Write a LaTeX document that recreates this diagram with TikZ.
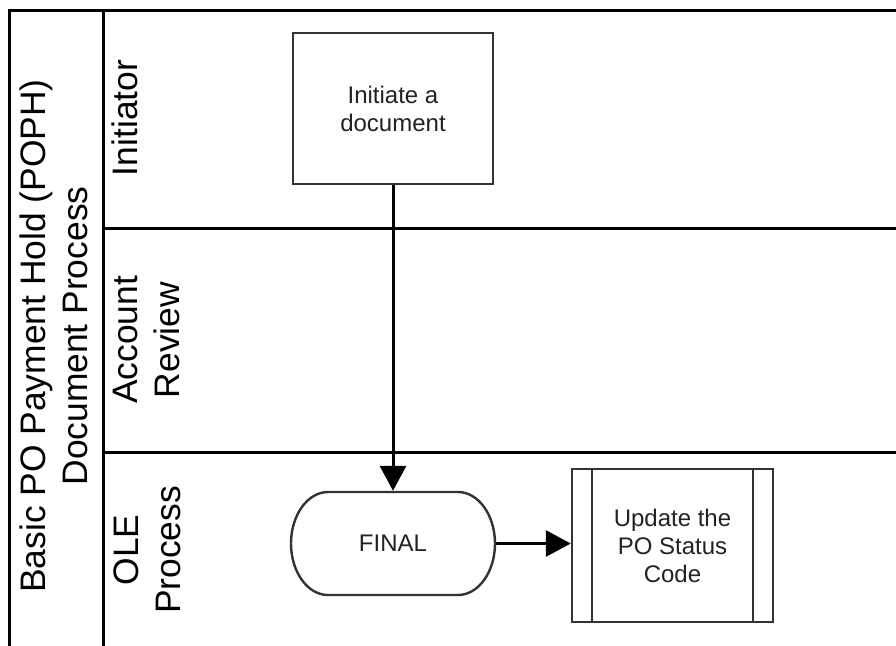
\documentclass[tikz,border=0pt]{standalone}
\usepackage{fontspec}
\setmainfont{Liberation Sans}
\usetikzlibrary{arrows.meta}
\definecolor{boxline}{HTML}{333333}
\definecolor{boxtext}{HTML}{222222}
\begin{document}
\begin{tikzpicture}[x=0.5pt,y=-0.5pt,
  poolline/.style={line width=1.5pt,black},
  lanelabel/.style={rotate=90,align=center,inner sep=0pt,font=\fontsize{17.7}{21}\selectfont,text=black},
  procbox/.style={draw=boxline,line width=1.2pt,fill=white,align=center,inner sep=0pt,font=\fontsize{12}{14}\selectfont,text=boxtext},
  flow/.style={line width=1.5pt,black,-{Triangle[length=12.5pt,width=13pt]}}]
\useasboundingbox (0,0) rectangle (896,645);
% pool and lanes
\draw[poolline] (9,646) -- (9,10) -- (896,10);
\draw[poolline] (103,10) -- (103,646);
\draw[poolline] (103,228) -- (896,228);
\draw[poolline] (103,452) -- (896,452);
% labels
\node[lanelabel] (pool) at (54,336) {Basic PO Payment Hold (POPH)\\Document Process};
\node[lanelabel] (lane1) at (125,118) {Initiator};
\node[lanelabel] (lane2) at (146,340) {Account\\Review};
\node[lanelabel] (lane3) at (147,550) {OLE\\Process};
% nodes
\node[procbox,minimum width=100pt,minimum height=75.5pt] (init) at (393,108.5) {Initiate a\\document};
\draw[boxline,line width=1.2pt,fill=white]
  (328,492) -- (458,492)
  .. controls (478.4,492) and (495,515.1) .. (495,543.5)
  .. controls (495,571.9) and (478.4,595) .. (458,595)
  -- (328,595)
  .. controls (307.6,595) and (291,571.9) .. (291,543.5)
  .. controls (291,515.1) and (307.6,492) .. (328,492) -- cycle;
\node[procbox,draw=none,fill=none,minimum width=102pt,minimum height=51.5pt] (final) at (393,543.5) {FINAL};
\node[procbox,minimum width=100.5pt,minimum height=76.5pt] (sub) at (672.5,545.5) {Update the\\PO Status\\Code};
\draw[boxline,line width=1.2pt] ([xshift=10.5pt]sub.north west) -- ([xshift=10.5pt]sub.south west);
\draw[boxline,line width=1.2pt] ([xshift=-10.5pt]sub.north east) -- ([xshift=-10.5pt]sub.south east);
% connectors
\draw[flow] (init.south) -- (final.north);
\draw[flow] (final.east) -- (final.east -| sub.west);
\end{tikzpicture}
\end{document}
